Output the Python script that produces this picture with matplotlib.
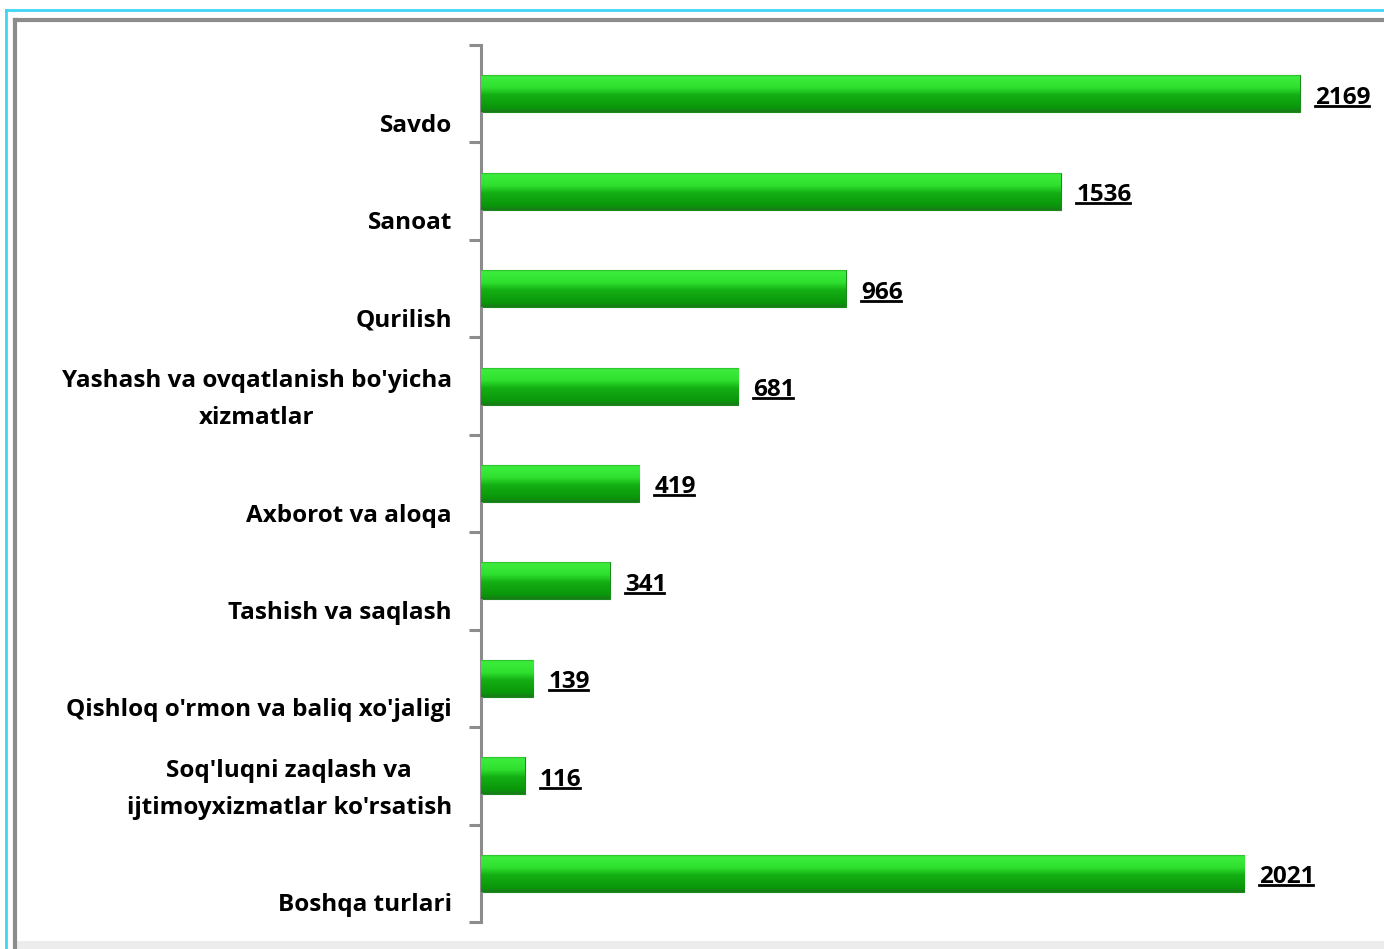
import numpy as np
import matplotlib.pyplot as plt
from matplotlib.colors import LinearSegmentedColormap
from matplotlib.lines import Line2D
from matplotlib.patches import Rectangle

# Data
categories = [
    "Savdo",
    "Sanoat",
    "Qurilish",
    "Yashash va ovqatlanish bo'yicha\nxizmatlar",
    "Axborot va aloqa",
    "Tashish va saqlash",
    "Qishloq o'rmon va baliq xo'jaligi",
    "Soq'luqni zaqlash va\nijtimoyxizmatlar ko'rsatish",
    "Boshqa turlari",
]
values = [2169, 1536, 966, 681, 419, 341, 139, 116, 2021]

plt.rcParams['font.family'] = ['Open Sans', 'DejaVu Sans']

W, H = 1384, 949
fig = plt.figure(figsize=(W / 100, H / 100), dpi=100)
fig.patch.set_facecolor("white")

# axes placed so that the value axis starts at x=481 and rows span y=45..922
ax_left, ax_right = 481 / W, 1.0
ax_top, ax_bottom = 1 - 45 / H, 1 - 922 / H
ax = fig.add_axes([ax_left, ax_bottom, ax_right - ax_left, ax_top - ax_bottom])
ax.set_facecolor("none")

xmax = (W - 481) / (819 / 2169)
n = len(categories)
bar_h = 0.38

# vertical gradient to imitate the glossy green bars
green = LinearSegmentedColormap.from_list(
    "green3d",
    [(0.0, "#1e9e1e"), (0.06, "#3ded3d"), (0.35, "#2fe02f"),
     (0.55, "#14b014"), (0.9, "#0a960a"), (1.0, "#1a7a1a")],
)
grad = np.linspace(0, 1, 64).reshape(-1, 1)

bars = ax.barh(range(n), values, height=bar_h, color="#1fbf1f",
               edgecolor="#1a8a1a", linewidth=0.8, zorder=2)
for i, (b, v) in enumerate(zip(bars, values)):
    im = ax.imshow(grad, cmap=green, aspect="auto", zorder=3,
                   extent=[0, v, i + bar_h / 2, i - bar_h / 2],
                   interpolation="bicubic")
    im.set_clip_path(b)

ax.set_xlim(0, xmax)
ax.set_ylim(n - 0.5, -0.5)

# spines / ticks
for s in ["top", "right", "bottom"]:
    ax.spines[s].set_visible(False)
ax.spines["left"].set_color("#8c8c8c")
ax.spines["left"].set_linewidth(2.2)
ax.set_xticks([])
ax.set_yticks(np.arange(-0.5, n, 1.0))
ax.set_yticklabels([])
ax.tick_params(axis="y", direction="out", length=9, width=2.2, color="#8c8c8c")

# category labels, bottom aligned in each row
for i, c in enumerate(categories):
    ax.annotate(c, xy=(0, i + 0.5 - 0.11), xycoords=("axes fraction", "data"),
                xytext=(-21, 0), textcoords="offset points",
                ha="right", va="baseline", multialignment="center",
                fontsize=17.5, fontweight="bold", linespacing=1.7, color="black")

# value labels (underlined)
vtexts = []
for i, v in enumerate(values):
    t = ax.annotate(str(v), xy=(v, i + 0.04), xytext=(11, 0),
                    textcoords="offset points", ha="left", va="center",
                    fontsize=17.5, fontweight="bold", color="black")
    vtexts.append(t)

fig.canvas.draw()
renderer = fig.canvas.get_renderer()
for t in vtexts:
    bb = t.get_window_extent(renderer)
    y = bb.y0 + 4
    fig.add_artist(Line2D([bb.x0 / W, (bb.x1 - 2) / W], [y / H, y / H],
                          color="black", linewidth=2))

# outer frame: cyan outline, grey inner border, light strip at bottom
fig.add_artist(Line2D([6 / W, 6 / W], [0, 1 - 10 / H], color="#41d4f5", lw=2))
fig.add_artist(Line2D([6 / W, 1], [1 - 10 / H, 1 - 10 / H], color="#41d4f5", lw=2))
fig.add_artist(Line2D([15 / W, 15 / W], [0, 1 - 20 / H], color="#8c8c8c", lw=3))
fig.add_artist(Line2D([15 / W, 1], [1 - 20 / H, 1 - 20 / H], color="#8c8c8c", lw=3))
fig.add_artist(Rectangle((17 / W, 0), 1, 8 / H, transform=fig.transFigure,
                         facecolor="#ececec", edgecolor="none"))

fig.savefig("out.png", dpi=100)
